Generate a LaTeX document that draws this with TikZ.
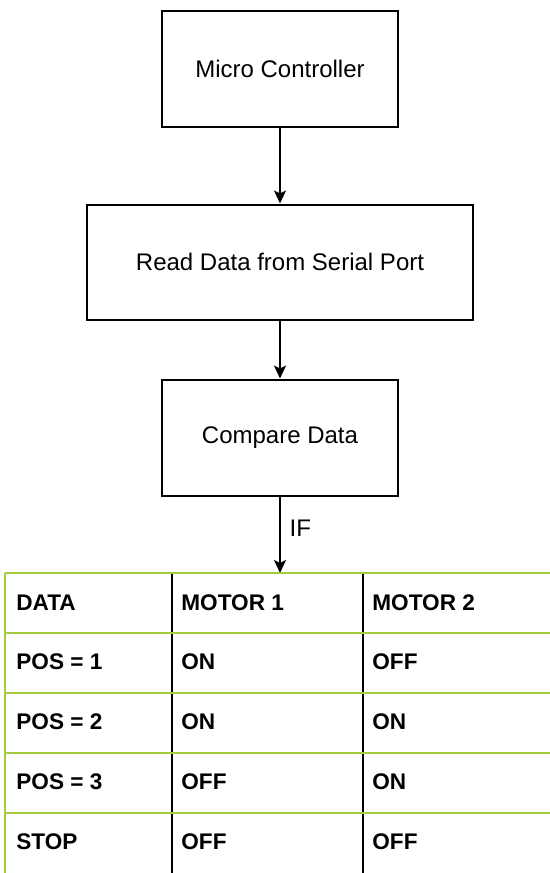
\documentclass[tikz,border=0pt]{standalone}
\usepackage{fontspec}
\setmainfont{Liberation Sans}
\usetikzlibrary{arrows.meta, positioning}
\definecolor{tblgreen}{RGB}{163,204,64}
\tikzset{
    base/.style = {rectangle, draw=black, line width=1pt, inner sep=0pt, text centered, font=\fontsize{12}{14}\selectfont},
    narrow/.style = {base, minimum width=118pt, minimum height=58pt},
    wide/.style = {base, minimum width=193pt, minimum height=57.5pt},
    arrow/.style = {line width=1pt, -{Stealth[length=6.5pt, width=6pt, inset=1.5pt]}},
    label/.style = {font=\fontsize{12}{14}\selectfont},
    cell/.style = {anchor=west, inner sep=0pt, font=\fontsize{11.3}{13}\selectfont\bfseries},
    gridgreen/.style = {line width=1pt, draw=tblgreen},
    gridblack/.style = {line width=1pt, draw=black}
}

\begin{document}
\begin{tikzpicture}[x=0.5pt, y=-0.5pt]
        \useasboundingbox (0,0) rectangle (550,873);

        % Stage 1: Controller
        \node (mc) [narrow] at (280,68.5) {Micro Controller};

        % Stage 2: Serial input
        \node (rd) [wide, below=38pt of mc] {Read Data from Serial Port};

        % Stage 3: Compare
        \node (cmp) [narrow, below=29pt of rd] {Compare Data};

        % Table entry point
        \coordinate (tbl) at (280,573);

        % ARROWS
        \draw [arrow] (mc) -- (rd);
        \draw [arrow] (rd) -- (cmp);
        \draw [arrow] (cmp) -- node (iflbl) [label, right, pos=0.42, xshift=1pt] {IF} (tbl);

        % TABLE GRID (black columns, green rows)
        \draw [gridblack] (172,573) -- (172,873);
        \draw [gridblack] (363,573) -- (363,873);
        \draw [gridgreen] (5,573) -- (5,873);
        \draw [gridgreen] (4.5,573) -- (552,573);
        \draw [gridgreen] (4.5,633) -- (552,633);
        \draw [gridgreen] (4.5,693) -- (552,693);
        \draw [gridgreen] (4.5,753) -- (552,753);
        \draw [gridgreen] (4.5,813) -- (552,813);

        % TABLE HEADER
        \node (hdata) [cell] at (16,603) {DATA};
        \node (hmot1) [cell] at (181,603) {MOTOR 1};
        \node (hmot2) [cell] at (372,603) {MOTOR 2};

        % TABLE ROWS
        \node (pos1) [cell] at (16,662) {POS = 1};
        \node (pos1a) [cell] at (181,662) {ON};
        \node (pos1b) [cell] at (372,662) {OFF};

        \node (pos2) [cell] at (16,722) {POS = 2};
        \node (pos2a) [cell] at (181,722) {ON};
        \node (pos2b) [cell] at (372,722) {ON};

        \node (pos3) [cell] at (16,782) {POS = 3};
        \node (pos3a) [cell] at (181,782) {OFF};
        \node (pos3b) [cell] at (372,782) {ON};

        \node (stop) [cell] at (16,842) {STOP};
        \node (stopa) [cell] at (181,842) {OFF};
        \node (stopb) [cell] at (372,842) {OFF};
    \end{tikzpicture}
\end{document}
